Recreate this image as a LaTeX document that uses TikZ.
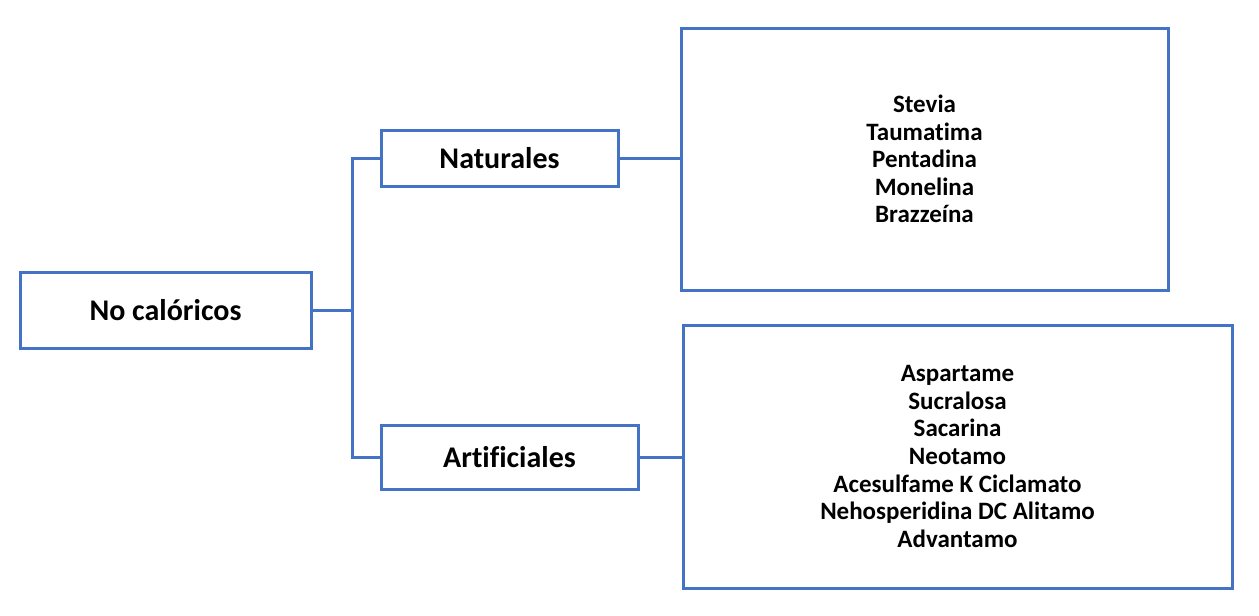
\documentclass[tikz,border=0pt]{standalone}
\usepackage{fontspec}
\setmainfont{Carlito}[Ligatures=NoCommon]
\definecolor{boxblue}{RGB}{68,114,196}
\usepackage{tikz}
\tikzset{
  catbox/.style={draw=boxblue, line width=3pt, rectangle, outer sep=0pt, inner sep=0pt,
    font=\bfseries\fontsize{30}{34}\selectfont},
  listbox/.style={draw=boxblue, line width=3pt, rectangle, outer sep=0pt, inner sep=0pt, align=center,
    font=\bfseries\fontsize{25}{27.6}\selectfont},
  link/.style={draw=boxblue, line width=3pt}
}

\begin{document}
\begin{tikzpicture}[x=1pt, y=-1pt]
  \useasboundingbox (0,0) rectangle (1259,616);
  % main category
  \node[catbox, minimum width=291pt, minimum height=76pt] (root) at (165.5,310) {No calóricos};

  % branches
  \node[catbox, minimum width=237pt, minimum height=56pt] (nat) at (499.5,158) {Naturales};
  \node[catbox, minimum width=257pt, minimum height=64pt] (art) at (509.5,457) {Artificiales};

  % lists
  \node[listbox, minimum width=487pt, minimum height=262pt] (natlist) at (924.5,159)
    {Stevia\\Taumatima\\Pentadina\\Monelina\\Brazzeína};
  \node[listbox, minimum width=549pt, minimum height=263pt] (artlist) at (957.5,456.5)
    {Aspartame\\Sucralosa\\Sacarina\\Neotamo\\Acesulfame K Ciclamato\\Nehosperidina DC Alitamo\\Advantamo};

  % connectors
  \coordinate (fork) at (352,310);
  \draw[link] (root) -- (fork);
  \draw[link] (nat.west) -| (fork);
  \draw[link] (art.west) -| (fork);
  \draw[link] (nat) -- (nat -| natlist.west);
  \draw[link] (art) -- (art -| artlist.west);
\end{tikzpicture}
\end{document}
